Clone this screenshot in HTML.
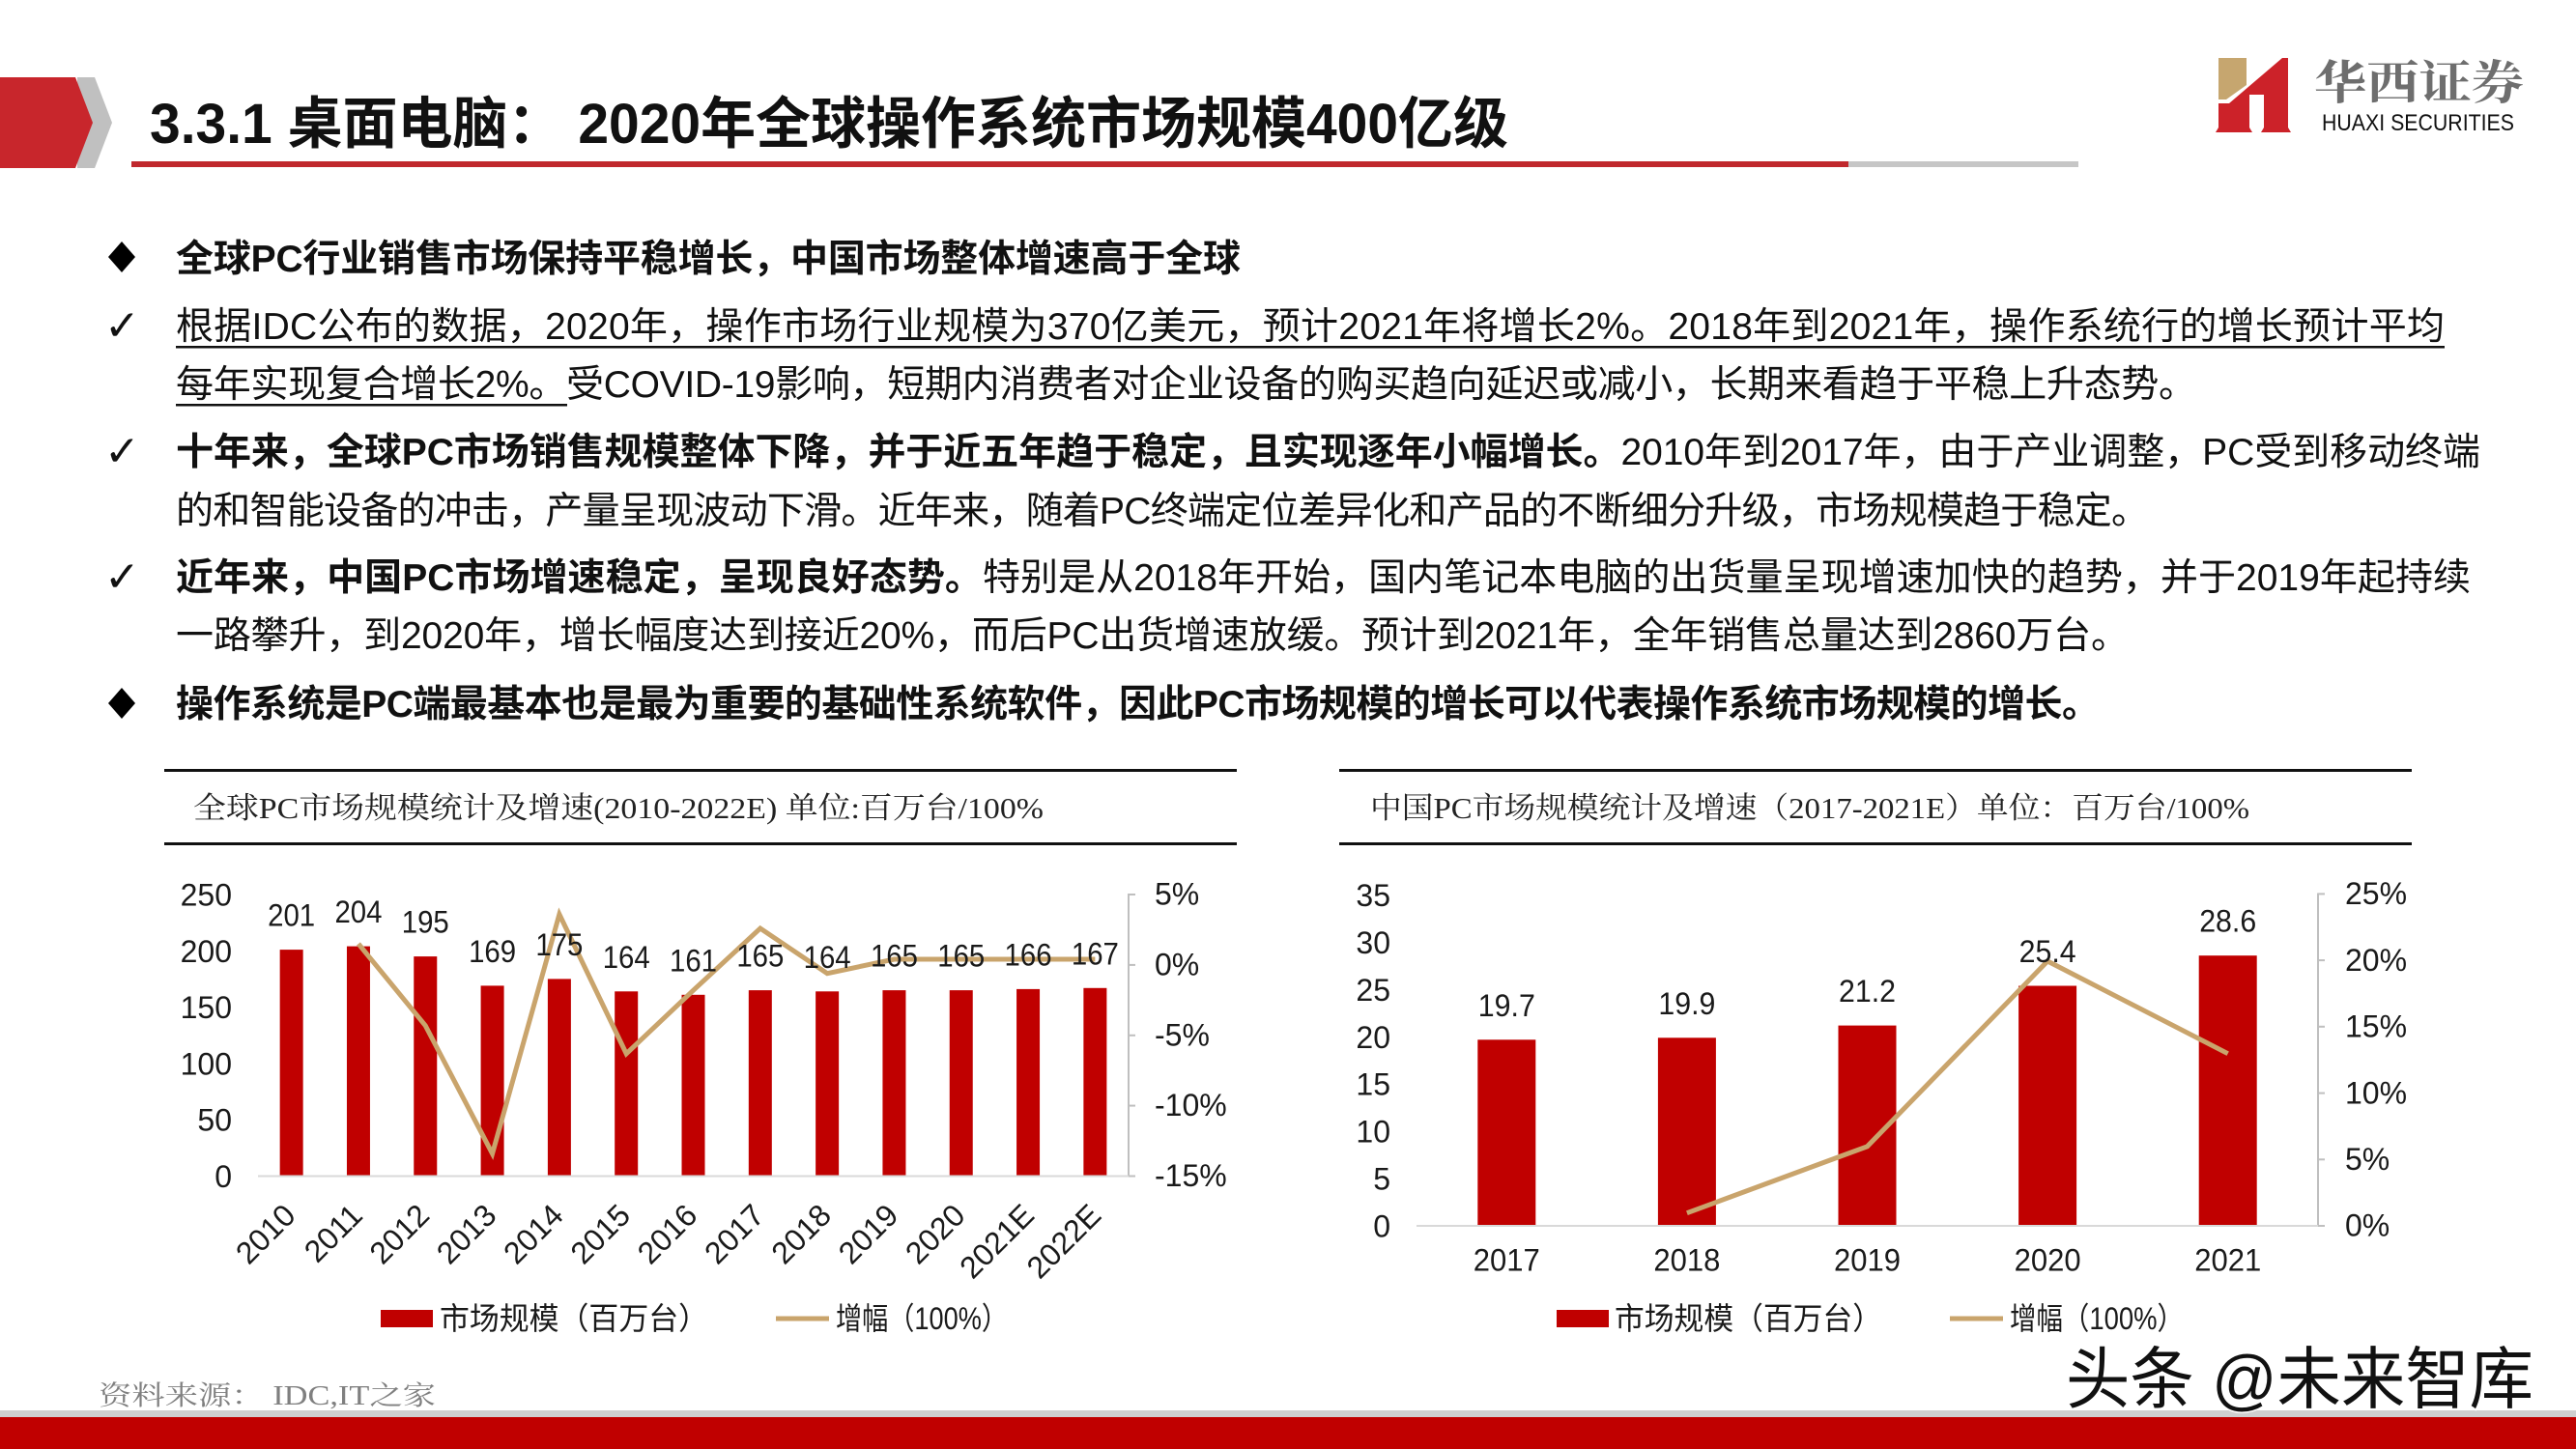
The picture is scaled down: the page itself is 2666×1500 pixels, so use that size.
<!DOCTYPE html>
<html><head><meta charset="utf-8"><style>
html,body{margin:0;padding:0;background:#fff;}
svg{display:block;}
.t{font-family:"Liberation Sans","Noto Sans CJK SC",sans-serif;fill:#111;}
.c{font-family:"Liberation Sans","Noto Sans CJK SC",sans-serif;fill:#1a1a1a;font-size:32px;}
.sr{font-family:"Liberation Serif","Noto Serif CJK SC",serif;}
</style></head><body>
<svg width="2666" height="1500" viewBox="0 0 2666 1500" xmlns="http://www.w3.org/2000/svg">
<rect width="2666" height="1500" fill="#fff"/>

<!-- header -->
<polygon points="80,80 98,80 116,127 98,174 80,174" fill="#C0C0C0"/>
<polygon points="0,80 78,80 96,127 78,174 0,174" fill="#C8262C"/>
<text class="t" x="155" y="148" font-size="58" font-weight="bold" fill="#000" textLength="1406" lengthAdjust="spacingAndGlyphs">3.3.1 桌面电脑： 2020年全球操作系统市场规模400亿级</text>
<rect x="136" y="167" width="1777" height="6" fill="#C0282D"/>
<rect x="1913" y="167" width="238" height="6" fill="#C6C6C6"/>

<!-- logo -->
<polygon points="2296,60 2325,60 2325,88 2304,103 2296,103" fill="#C6A66F"/>
<polygon points="2296,107 2307,107 2362,60 2368,60 2368,132 2371,137 2340,137 2343,132 2343,98 2328,98 2328,132 2331,137 2293,137 2296,132" fill="#CC2229"/>
<text class="sr" x="2395" y="102" font-size="48" font-weight="bold" fill="#6E6E6E" textLength="217" lengthAdjust="spacingAndGlyphs">华西证券</text>
<text class="t" x="2403" y="135" font-size="24" fill="#5E5E5E" textLength="199" lengthAdjust="spacingAndGlyphs">HUAXI SECURITIES</text>

<!-- bullets -->
<polygon points="126,250 140,266 126,282 112,266" fill="#000"/>
<polygon points="126,712 140,728 126,744 112,728" fill="#000"/>
<text x="108" y="352" font-size="44" style="font-family:'DejaVu Sans',sans-serif" fill="#111">✓</text>
<text x="108" y="482" font-size="44" style="font-family:'DejaVu Sans',sans-serif" fill="#111">✓</text>
<text x="108" y="612" font-size="44" style="font-family:'DejaVu Sans',sans-serif" fill="#111">✓</text>

<g font-size="39">
<text class="t" x="182" y="281" font-weight="bold" textLength="1102" lengthAdjust="spacing">全球PC行业销售市场保持平稳增长，中国市场整体增速高于全球</text>
<text class="t" x="182" y="351" textLength="2348" lengthAdjust="spacing">根据IDC公布的数据，2020年，操作市场行业规模为370亿美元，预计2021年将增长2%。2018年到2021年，操作系统行的增长预计平均</text>
<rect x="182" y="358" width="2348" height="2.5" fill="#111"/>
<text class="t" x="182" y="411" textLength="2091" lengthAdjust="spacing">每年实现复合增长2%。受COVID-19影响，短期内消费者对企业设备的购买趋向延迟或减小，长期来看趋于平稳上升态势。</text>
<rect x="182" y="418" width="405" height="2.5" fill="#111"/>
<text class="t" x="182" y="481" textLength="2385" lengthAdjust="spacing"><tspan font-weight="bold">十年来，全球PC市场销售规模整体下降，并于近五年趋于稳定，且实现逐年小幅增长。</tspan>2010年到2017年，由于产业调整，PC受到移动终端</text>
<text class="t" x="182" y="542" textLength="2042" lengthAdjust="spacing">的和智能设备的冲击，产量呈现波动下滑。近年来，随着PC终端定位差异化和产品的不断细分升级，市场规模趋于稳定。</text>
<text class="t" x="182" y="611" textLength="2375" lengthAdjust="spacing"><tspan font-weight="bold">近年来，中国PC市场增速稳定，呈现良好态势。</tspan>特别是从2018年开始，国内笔记本电脑的出货量呈现增速加快的趋势，并于2019年起持续</text>
<text class="t" x="182" y="671" textLength="2021" lengthAdjust="spacing">一路攀升，到2020年，增长幅度达到接近20%，而后PC出货增速放缓。预计到2021年，全年销售总量达到2860万台。</text>
<text class="t" x="182" y="742" font-weight="bold" textLength="1991" lengthAdjust="spacing">操作系统是PC端最基本也是最为重要的基础性系统软件，因此PC市场规模的增长可以代表操作系统市场规模的增长。</text>
</g>

<!-- LEFT CHART -->
<rect x="170" y="796" width="1110" height="3" fill="#111"/>
<rect x="170" y="872" width="1110" height="3" fill="#111"/>
<text class="sr" x="200" y="847" font-size="31" fill="#222" textLength="880" lengthAdjust="spacingAndGlyphs">全球PC市场规模统计及增速(2010-2022E) 单位:百万台/100%</text>

<g class="c" text-anchor="end">
<text x="240" y="937.5">250</text>
<text x="240" y="995.8">200</text>
<text x="240" y="1054.1">150</text>
<text x="240" y="1112.4">100</text>
<text x="240" y="1170.7">50</text>
<text x="240" y="1229">0</text>
</g>
<g class="c" font-size="30">
<text x="1195" y="936.5">5%</text>
<text x="1195" y="1009.5">0%</text>
<text x="1195" y="1082.3">-5%</text>
<text x="1195" y="1155.1">-10%</text>
<text x="1195" y="1228">-15%</text>
</g>
<line x1="1168" y1="925" x2="1168" y2="1218" stroke="#BFBFBF" stroke-width="2"/>
<g stroke="#BFBFBF" stroke-width="2">
<line x1="1168" y1="926" x2="1175" y2="926"/>
<line x1="1168" y1="998.9" x2="1175" y2="998.9"/>
<line x1="1168" y1="1071.8" x2="1175" y2="1071.8"/>
<line x1="1168" y1="1144.6" x2="1175" y2="1144.6"/>
<line x1="1168" y1="1217.5" x2="1175" y2="1217.5"/>
</g>

<g fill="#C00000">
<rect x="289.65" y="983.1" width="24" height="234.4"/>
<rect x="358.96" y="979.6" width="24" height="237.9"/>
<rect x="428.27" y="990.1" width="24" height="227.4"/>
<rect x="497.58" y="1020.4" width="24" height="197.1"/>
<rect x="566.89" y="1013.4" width="24" height="204.1"/>
<rect x="636.2" y="1026.3" width="24" height="191.2"/>
<rect x="705.51" y="1029.8" width="24" height="187.7"/>
<rect x="774.82" y="1025.1" width="24" height="192.4"/>
<rect x="844.13" y="1026.3" width="24" height="191.2"/>
<rect x="913.44" y="1025.1" width="24" height="192.4"/>
<rect x="982.75" y="1025.1" width="24" height="192.4"/>
<rect x="1052.06" y="1023.9" width="24" height="193.6"/>
<rect x="1121.37" y="1022.8" width="24" height="194.7"/>
</g>
<line x1="267" y1="1217.5" x2="1168" y2="1217.5" stroke="#D9D9D9" stroke-width="2"/>

<polyline points="370.96,977 440.27,1061.7 509.58,1194.3 578.89,946.5 648.2,1090.8 717.51,1025.2 786.82,961.1 856.13,1007.7 925.44,993 994.75,993 1064.06,993 1133.37,993" fill="none" stroke="#C9A46C" stroke-width="5" stroke-linejoin="miter"/>

<g class="c" text-anchor="middle">
<text x="301.65" y="958.6" textLength="49" lengthAdjust="spacingAndGlyphs">201</text>
<text x="370.96" y="955.1" textLength="49" lengthAdjust="spacingAndGlyphs">204</text>
<text x="440.27" y="965.6" textLength="49" lengthAdjust="spacingAndGlyphs">195</text>
<text x="509.58" y="995.9" textLength="49" lengthAdjust="spacingAndGlyphs">169</text>
<text x="578.89" y="988.9" textLength="49" lengthAdjust="spacingAndGlyphs">175</text>
<text x="648.2" y="1001.8" textLength="49" lengthAdjust="spacingAndGlyphs">164</text>
<text x="717.51" y="1005.3" textLength="49" lengthAdjust="spacingAndGlyphs">161</text>
<text x="786.82" y="1000.6" textLength="49" lengthAdjust="spacingAndGlyphs">165</text>
<text x="856.13" y="1001.8" textLength="49" lengthAdjust="spacingAndGlyphs">164</text>
<text x="925.44" y="1000.6" textLength="49" lengthAdjust="spacingAndGlyphs">165</text>
<text x="994.75" y="1000.6" textLength="49" lengthAdjust="spacingAndGlyphs">165</text>
<text x="1064.06" y="999.4" textLength="49" lengthAdjust="spacingAndGlyphs">166</text>
<text x="1133.37" y="998.3" textLength="49" lengthAdjust="spacingAndGlyphs">167</text>
</g>

<g class="c" text-anchor="end">
<text transform="translate(307.65,1260) rotate(-45)">2010</text>
<text transform="translate(376.96,1260) rotate(-45)">2011</text>
<text transform="translate(446.27,1260) rotate(-45)">2012</text>
<text transform="translate(515.58,1260) rotate(-45)">2013</text>
<text transform="translate(584.89,1260) rotate(-45)">2014</text>
<text transform="translate(654.2,1260) rotate(-45)">2015</text>
<text transform="translate(723.51,1260) rotate(-45)">2016</text>
<text transform="translate(792.82,1260) rotate(-45)">2017</text>
<text transform="translate(862.13,1260) rotate(-45)">2018</text>
<text transform="translate(931.44,1260) rotate(-45)">2019</text>
<text transform="translate(1000.75,1260) rotate(-45)">2020</text>
<text transform="translate(1072.06,1260) rotate(-45)">2021E</text>
<text transform="translate(1141.37,1260) rotate(-45)">2022E</text>
</g>

<rect x="394" y="1356" width="54" height="18" fill="#C00000"/>
<text class="c" x="455" y="1376" font-size="31" textLength="278" lengthAdjust="spacingAndGlyphs">市场规模（百万台）</text>
<line x1="803" y1="1365" x2="858" y2="1365" stroke="#C9A46C" stroke-width="5"/>
<text class="c" x="865" y="1376" font-size="31" textLength="178" lengthAdjust="spacingAndGlyphs">增幅（100%）</text>

<!-- RIGHT CHART -->
<rect x="1386" y="796" width="1110" height="3" fill="#111"/>
<rect x="1386" y="872" width="1110" height="3" fill="#111"/>
<text class="sr" x="1418" y="847" font-size="31" fill="#222" textLength="910" lengthAdjust="spacingAndGlyphs">中国PC市场规模统计及增速（2017-2021E）单位：百万台/100%</text>

<g class="c" text-anchor="end">
<text x="1439" y="938.1">35</text>
<text x="1439" y="987">30</text>
<text x="1439" y="1035.9">25</text>
<text x="1439" y="1084.8">20</text>
<text x="1439" y="1133.7">15</text>
<text x="1439" y="1182.6">10</text>
<text x="1439" y="1231.5">5</text>
<text x="1439" y="1280.5">0</text>
</g>
<g class="c" font-size="30">
<text x="2427" y="936">25%</text>
<text x="2427" y="1004.8">20%</text>
<text x="2427" y="1073.5">15%</text>
<text x="2427" y="1142.3">10%</text>
<text x="2427" y="1211">5%</text>
<text x="2427" y="1279.7">0%</text>
</g>
<line x1="2399" y1="924.5" x2="2399" y2="1270" stroke="#BFBFBF" stroke-width="2"/>
<g stroke="#BFBFBF" stroke-width="2">
<line x1="2399" y1="925.4" x2="2406" y2="925.4"/>
<line x1="2399" y1="994.1" x2="2406" y2="994.1"/>
<line x1="2399" y1="1062.8" x2="2406" y2="1062.8"/>
<line x1="2399" y1="1131.6" x2="2406" y2="1131.6"/>
<line x1="2399" y1="1200.3" x2="2406" y2="1200.3"/>
<line x1="2399" y1="1269" x2="2406" y2="1269"/>
</g>

<g fill="#C00000">
<rect x="1529.3" y="1076.3" width="60" height="192.7"/>
<rect x="1715.9" y="1074.3" width="60" height="194.7"/>
<rect x="1902.5" y="1061.6" width="60" height="207.4"/>
<rect x="2089.1" y="1020.5" width="60" height="248.5"/>
<rect x="2275.7" y="989.2" width="60" height="279.8"/>
</g>
<line x1="1466" y1="1269" x2="2399" y2="1269" stroke="#D9D9D9" stroke-width="2"/>

<polyline points="1745.9,1255.7 1932.5,1186.8 2119.1,995 2305.7,1090.7" fill="none" stroke="#C9A46C" stroke-width="5"/>

<g class="c" text-anchor="middle">
<text x="1559.3" y="1051.8" textLength="59" lengthAdjust="spacingAndGlyphs">19.7</text>
<text x="1745.9" y="1049.8" textLength="59" lengthAdjust="spacingAndGlyphs">19.9</text>
<text x="1932.5" y="1037.1" textLength="59" lengthAdjust="spacingAndGlyphs">21.2</text>
<text x="2119.1" y="996" textLength="59" lengthAdjust="spacingAndGlyphs">25.4</text>
<text x="2305.7" y="964.7" textLength="59" lengthAdjust="spacingAndGlyphs">28.6</text>
</g>
<g class="c" text-anchor="middle">
<text x="1559.3" y="1315.5" textLength="69" lengthAdjust="spacingAndGlyphs">2017</text>
<text x="1745.9" y="1315.5" textLength="69" lengthAdjust="spacingAndGlyphs">2018</text>
<text x="1932.5" y="1315.5" textLength="69" lengthAdjust="spacingAndGlyphs">2019</text>
<text x="2119.1" y="1315.5" textLength="69" lengthAdjust="spacingAndGlyphs">2020</text>
<text x="2305.7" y="1315.5" textLength="69" lengthAdjust="spacingAndGlyphs">2021</text>
</g>

<rect x="1611" y="1356" width="54" height="18" fill="#C00000"/>
<text class="c" x="1671" y="1376" font-size="31" textLength="277" lengthAdjust="spacingAndGlyphs">市场规模（百万台）</text>
<line x1="2018" y1="1365" x2="2073" y2="1365" stroke="#C9A46C" stroke-width="5"/>
<text class="c" x="2080" y="1376" font-size="31" textLength="180" lengthAdjust="spacingAndGlyphs">增幅（100%）</text>

<!-- footer -->
<text class="sr" x="102" y="1454" font-size="28" fill="#7F7F7F" textLength="349" lengthAdjust="spacingAndGlyphs">资料来源：  IDC,IT之家</text>
<rect x="0" y="1460" width="2666" height="7" fill="#CFCFCF"/>
<rect x="0" y="1467" width="2666" height="33" fill="#C00000"/>
<text class="t" x="2138" y="1452" font-size="70" fill="#111" stroke="#fff" stroke-width="3" paint-order="stroke" textLength="484" lengthAdjust="spacingAndGlyphs">头条 @未来智库</text>
</svg>
</body></html>
